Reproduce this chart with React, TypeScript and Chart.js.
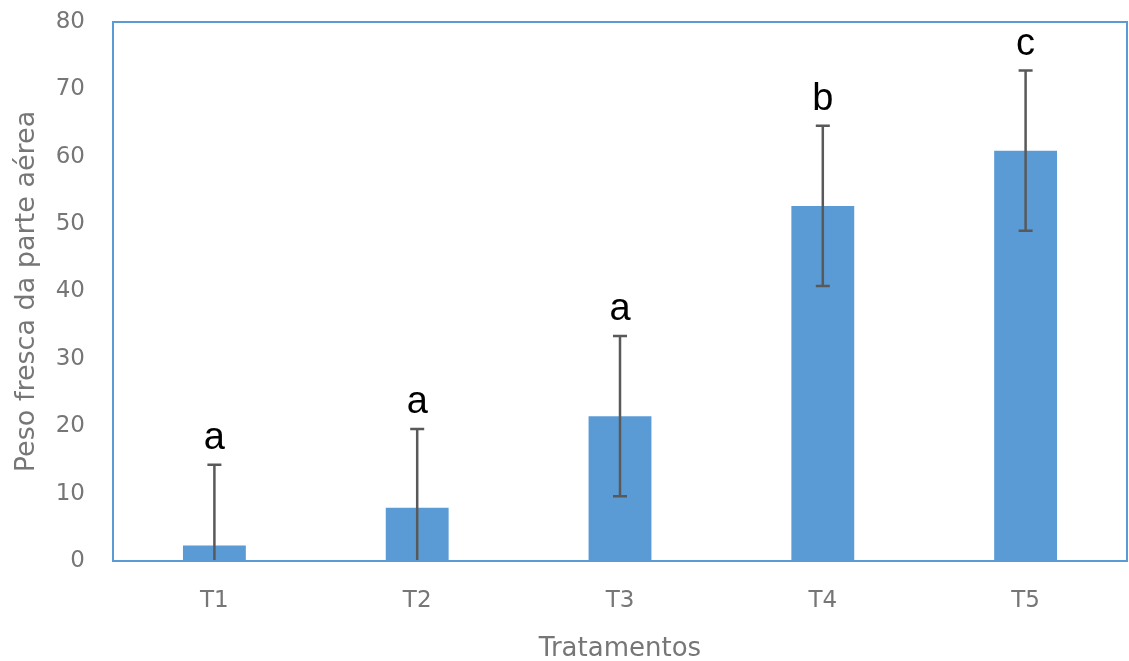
import React, { useEffect, useRef } from "react";
import { Chart, registerables } from "chart.js";

Chart.register(...registerables);

const categories = ["T1", "T2", "T3", "T4", "T5"];
const means = [2.3, 7.9, 21.5, 52.7, 60.9];
const errors = [12.0, 11.7, 11.9, 11.9, 11.9];
const letters = ["a", "a", "a", "b", "c"];
const yTicks = { min: 0, max: 80, step: 10 };

const BLUE = "#5B9BD5";
const ERR = "#595959";
const GRAY = "#767676";

const errorBarPlugin = {
  id: "errorBars",
  afterDatasetsDraw(chart: any) {
    const { ctx } = chart;
    const meta = chart.getDatasetMeta(0);
    const y = chart.scales.y;
    ctx.save();
    ctx.strokeStyle = ERR;
    ctx.lineWidth = 2.5;
    meta.data.forEach((bar: any, i: number) => {
      const x = bar.x;
      const hi = means[i] + errors[i];
      const loRaw = means[i] - errors[i];
      const lo = Math.max(0, loRaw);
      const yHi = y.getPixelForValue(hi);
      const yLo = y.getPixelForValue(lo);
      const half = 7;
      ctx.beginPath();
      ctx.moveTo(x, yLo);
      ctx.lineTo(x, yHi);
      ctx.moveTo(x - half, yHi);
      ctx.lineTo(x + half, yHi);
      if (loRaw >= 0) {
        ctx.moveTo(x - half, yLo);
        ctx.lineTo(x + half, yLo);
      }
      ctx.stroke();
      ctx.fillStyle = "#000";
      ctx.font = "38px 'Liberation Sans', Arial, sans-serif";
      ctx.textAlign = "center";
      ctx.textBaseline = "alphabetic";
      ctx.fillText(letters[i], x, yHi - 16);
    });
    ctx.restore();
  },
  afterDraw(chart: any) {
    const { ctx, chartArea } = chart;
    ctx.save();
    ctx.strokeStyle = BLUE;
    ctx.lineWidth = 2;
    ctx.strokeRect(
      chartArea.left,
      chartArea.top,
      chartArea.right - chartArea.left,
      chartArea.bottom - chartArea.top
    );
    ctx.restore();
  },
};

export default function App() {
  const ref = useRef<HTMLCanvasElement>(null);
  useEffect(() => {
    if (!ref.current) return;
    const chart = new Chart(ref.current, {
      type: "bar",
      data: {
        labels: categories,
        datasets: [
          {
            data: means,
            backgroundColor: BLUE,
            borderWidth: 0,
            categoryPercentage: 1,
            barPercentage: 0.31,
          },
        ],
      },
      options: {
        responsive: false,
        animation: false,
        devicePixelRatio: 1,
        layout: { padding: { top: 22, right: 2, left: 0, bottom: 0 } },
        plugins: {
          legend: { display: false },
          tooltip: { enabled: false },
        },
        scales: {
          x: {
            grid: { display: false, drawTicks: false },
            border: { display: false },
            ticks: {
              color: GRAY,
              padding: 26,
              font: { family: "'DejaVu Sans'", size: 23 },
            },
            title: {
              display: true,
              text: "Tratamentos",
              color: GRAY,
              font: { family: "'DejaVu Sans'", size: 26, lineHeight: 1 },
              padding: { top: 0, bottom: -1 },
            },
            afterFit: (s: any) => {
              s.height = 100;
              s.paddingLeft = 0;
              s.paddingRight = 0;
            },
          },
          y: {
            min: yTicks.min,
            max: yTicks.max,
            grid: { display: false, drawTicks: false },
            border: { display: false },
            ticks: {
              stepSize: yTicks.step,
              color: GRAY,
              padding: 28,
              font: { family: "'DejaVu Sans'", size: 23 },
            },
            title: {
              display: true,
              text: "Peso fresca da parte aérea",
              color: GRAY,
              font: { family: "'DejaVu Sans'", size: 27, lineHeight: 1 },
              padding: { top: 13, bottom: 0 },
            },
            afterFit: (s: any) => {
              s.width = 113;
              s.paddingTop = 0;
              s.paddingBottom = 0;
            },
          },
        },
      },
      plugins: [errorBarPlugin],
    });
    return () => chart.destroy();
  }, []);
  return (
    <div style={{ position: "absolute", left: 0, top: 0, width: 1129, height: 661, background: "#fff" }}>
      <canvas ref={ref} width={1129} height={661} style={{ width: 1129, height: 661 }} />
    </div>
  );
}
